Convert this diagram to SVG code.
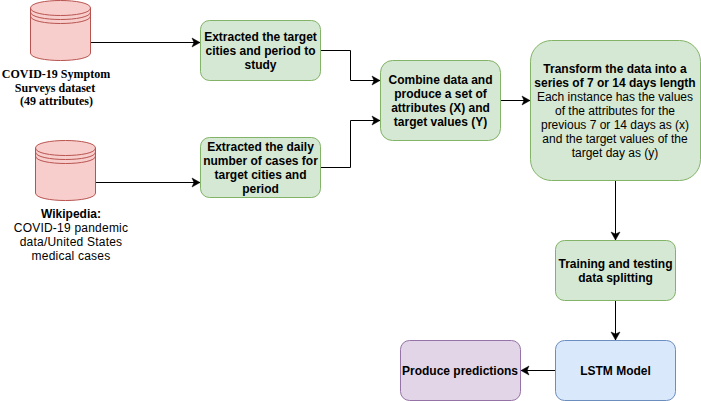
<svg xmlns="http://www.w3.org/2000/svg" width="701" height="401" viewBox="0 0 701 401">
<style>
text{font-family:"Liberation Sans",Arial,sans-serif;font-size:12px;text-anchor:middle;fill:#000}
.b{font-weight:bold}
.s{font-family:"Liberation Serif","Times New Roman",serif;font-weight:bold}
.w{letter-spacing:.22px}
.g{fill:#d5e8d4;stroke:#82b366}
.u{fill:#dae8fc;stroke:#6c8ebf}
.p{fill:#e1d5e7;stroke:#9673a6}
.c{fill:#f8cecc;stroke:#b85450}
.l{fill:none;stroke:#b85450}
.e{fill:none;stroke:#000;stroke-width:1;marker-end:url(#a)}
</style>
<defs>
<marker id="a" markerUnits="userSpaceOnUse" markerWidth="9" markerHeight="10" refX="8" refY="4.5" orient="auto" overflow="visible"><path d="M0 0L8 4.5L0 9L2 4.5Z" fill="#000" stroke="#000" stroke-width="0.5"/></marker>
<g id="cyl"><path class="c" d="M0 7.5C0-2.5 60-2.5 60 7.5V52.5C60 62.5 0 62.5 0 52.5Z"/><path class="l" d="M0 7.5C0 17.5 60 17.5 60 7.5M0 11.5C0 21.5 60 21.5 60 11.5M0 15.5C0 25.5 60 25.5 60 15.5"/></g>
</defs>
<g id="connectors">
<path class="e" d="M90.5 42.5H200"/>
<path class="e" d="M95.5 182.5H200"/>
<path class="e" d="M320.5 50.5H350.5V80.5H380"/>
<path class="e" d="M320.5 167.5H350.5V120.5H380"/>
<path class="e" d="M500.5 100.5H530"/>
<path class="e" d="M615.5 180.5V240"/>
<path class="e" d="M615.5 300.5V340"/>
<path class="e" d="M555.5 370.5H521"/>
</g>
<g id="n1"><use href="#cyl" x="30.5" y="0.5"/><text class="s" x="56" y="77.5">COVID-19 Symptom</text><text class="s" x="55" y="91.5">Surveys dataset</text><text class="s" x="56.5" y="105"> (49 attributes)</text></g>
<g id="n2"><use href="#cyl" x="35.5" y="140.5"/><text x="71" y="217.5" class="b">Wikipedia:</text><text class="w" x="71" y="231.5">COVID-19 pandemic</text><text class="w" x="71" y="245.5">data/United States</text><text class="w" x="71" y="259.5">medical cases</text></g>
<g id="n3"><rect class="g" x="200.5" y="20.5" width="120" height="60" rx="9"/><text class="b" x="260.5" y="41">Extracted the target</text><text class="b" x="260.5" y="55">cities and period to</text><text class="b" x="260.5" y="69">study</text></g>
<g id="n4"><rect class="g" x="200.5" y="137.5" width="120" height="60" rx="9"/><text class="b" x="260.5" y="151">Extracted the daily</text><text class="b" x="260.5" y="165">number of cases for</text><text class="b" x="260.5" y="179">target cities and</text><text class="b" x="260.5" y="193">period</text></g>
<g id="n5"><rect class="g" x="380.5" y="60.5" width="120" height="80" rx="12"/><text class="b" x="440.5" y="84">Combine data and</text><text class="b" x="440.5" y="98">produce a set of</text><text class="b" x="440.5" y="112">attributes (X) and</text><text class="b" x="440.5" y="126">target values (Y)</text></g>
<g id="n6"><rect class="g" x="530.5" y="40.5" width="170" height="140" rx="21"/><text class="b" x="615" y="73">Transform the data into a</text><text class="b" x="615" y="87">series of 7 or 14 days length</text><text x="615" y="101">Each instance has the values</text><text x="615" y="115">of the attributes for the</text><text x="615" y="129">previous 7 or 14 days as (x)</text><text x="615" y="143">and the target values of the</text><text x="615" y="157">target day as (y)</text></g>
<g id="n7"><rect class="g" x="555.5" y="240.5" width="120" height="60" rx="9"/><text class="b" x="615.5" y="268">Training and testing</text><text class="b" x="615.5" y="282">data splitting</text></g>
<g id="n8"><rect class="u" x="555.5" y="340.5" width="120" height="60" rx="9"/><text class="b" x="615.5" y="375">LSTM Model</text></g>
<g id="n9"><rect class="p" x="400.5" y="340.5" width="120" height="60" rx="9"/><text class="b" x="460" y="375">Produce predictions</text></g>
</svg>
